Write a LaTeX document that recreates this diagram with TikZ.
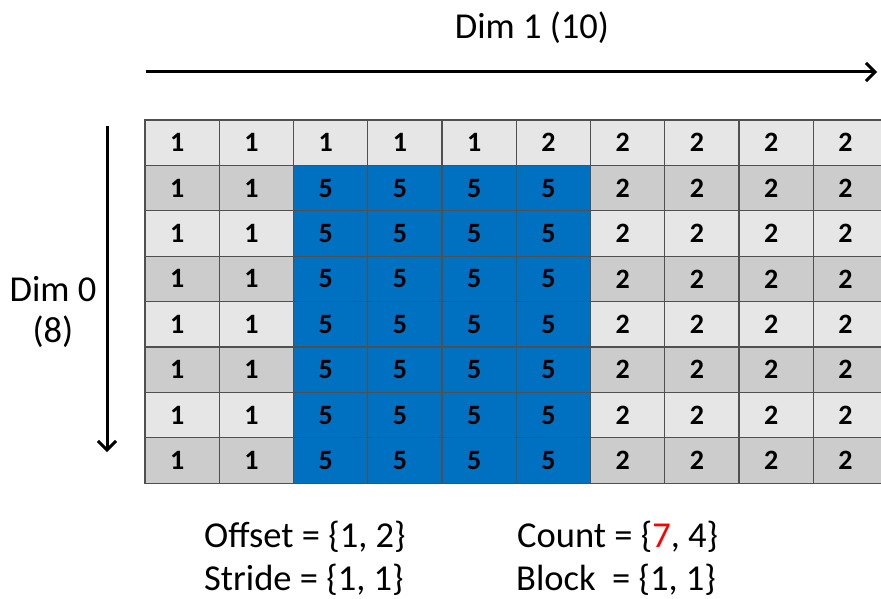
\documentclass[tikz,border=0pt]{standalone}
\usepackage{fontspec}
\setmainfont{Carlito}
\usepackage{tikz}
\usetikzlibrary{arrows.meta}
\definecolor{lightcell}{HTML}{E6E6E6}
\definecolor{darkcell}{HTML}{CCCCCC}
\definecolor{selblue}{HTML}{0070C0}
\definecolor{gridline}{HTML}{505050}
\tikzset{
  cell/.style={
    rectangle,
    draw=gridline,
    line width=1.3pt,
    minimum width=74.25pt,
    minimum height=45.4pt,
    inner sep=0pt,
  },
  digit/.style={
    inner sep=0pt,
    font=\fontsize{28}{28}\selectfont\bfseries,
  },
  dimarrow/.style={
    -{Straight Barb[length=9pt, width=18pt]},
    line width=3pt,
  },
  dimtext/.style={
    font=\fontsize{36.5}{41}\selectfont,
    inner sep=0pt,
  }
}

\begin{document}
\begin{tikzpicture}[x=1pt, y=-1pt]
  \clip (0, 0) rectangle (881, 599);

  \foreach \r in {0,...,7}{
    \foreach \c in {0,...,9}{
      \ifodd\r \def\shade{darkcell}\else \def\shade{lightcell}\fi
      \ifnum\c<5 \def\val{1}\else \def\val{2}\fi
      \ifnum\r>0 \ifnum\c>1 \ifnum\c<6 \def\shade{selblue}\def\val{5}\fi\fi\fi
      \node[cell, fill=\shade] (c\r\c) at ({145+74.25*(\c+0.5)}, {120+45.4*(\r+0.5)}) {};
      \node[digit] (d\r\c) at ([xshift=-5pt]c\r\c.center) {\val};
    }
  }

  \coordinate (dimone-start) at (146, 72);
  \coordinate (dimone-end) at (877, 72);
  \draw[dimarrow] (dimone-start) -- (dimone-end);
  \node[dimtext] (dimone) at (532, 28) {Dim 1 (10)};

  \coordinate (dimzero-start) at (107, 126);
  \coordinate (dimzero-end) at (107, 452);
  \draw[dimarrow] (dimzero-start) -- (dimzero-end);
  \node[dimtext, align=center] (dimzero) at (53, 312) {Dim 0\\(8)};

  \node[dimtext, anchor=west] (offset) at (204, 537) {Offset = \{1, 2\}};
  \node[dimtext, anchor=west] (stride) at (204, 580) {Stride = \{1, 1\}};
  \node[dimtext, anchor=west] (count) at (517, 537) {Count = \{\textcolor{red}{7}, 4\}};
  \node[dimtext, anchor=west] (block) at (516, 580) {Block \ = \{1, 1\}};

\end{tikzpicture}
\end{document}
